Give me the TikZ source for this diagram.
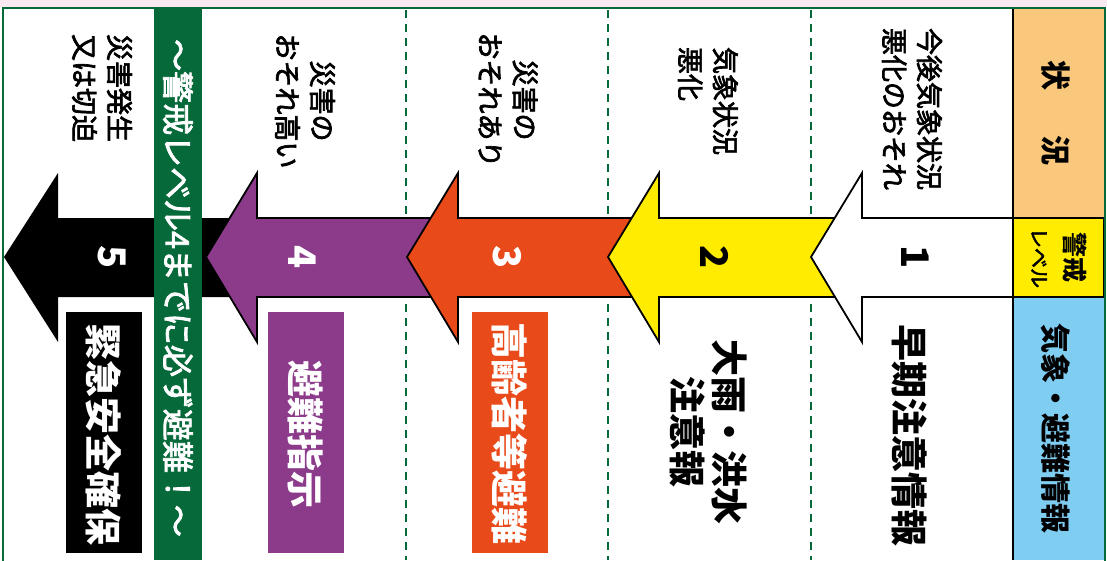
\documentclass[tikz,border=0pt]{standalone}
\usepackage{fontspec}
\usepackage{xcolor}
\usepackage{tikz}
\setmainfont{Noto Sans CJK JP}
\definecolor{frameGreen}{HTML}{06693A}
\definecolor{pinkStrip}{HTML}{FBE9F1}
\definecolor{headOrange}{HTML}{F9C87D}
\definecolor{headBlue}{HTML}{80CDF2}
\definecolor{levelYellow}{HTML}{FFEC00}
\definecolor{levelRed}{HTML}{E94A19}
\definecolor{levelPurple}{HTML}{8C3B8B}

\begin{document}
\begin{tikzpicture}[x=1pt, y=-1pt,
  vlabel/.style={rotate=-90, inner sep=0pt, align=center, font=\fontsize{27}{35}\selectfont\addfontfeatures{FakeBold=2.5}},
  biglabel/.style={rotate=-90, inner sep=0pt, align=center, font=\fontsize{37}{42}\selectfont\bfseries},
  numlabel/.style={rotate=-90, inner sep=0pt, font=\fontsize{38}{38}\selectfont\bfseries},
  headlabel/.style={rotate=-90, inner sep=0pt, font=\fontsize{30}{30}\selectfont\bfseries},
  levelarrow/.style={draw=black, line width=1.8, line join=miter},
  divider/.style={color=frameGreen, line width=2, dash pattern=on 8 off 6}]

\path[use as bounding box, clip] (0,0) rectangle (1107,560);
\fill[color=white] (0,0) rectangle (1107,560);
\fill[color=pinkStrip] (0,0) rectangle (1107,7);

\foreach \xd in {406,608,811}
  \draw[divider] (\xd,10) -- (\xd,560);

\fill[color=headOrange] (1013,8) rectangle (1105,218);
\fill[color=headBlue] (1013,297) rectangle (1105,560);

\fill[color=black] (268,218) -- (58,218) -- (58,173) -- (4,257) -- (58,342) -- (58,297) -- (268,297) -- cycle;
\fill[color=frameGreen] (154,8) rectangle (202,560);
\foreach \tip/\tail/\col in {206/468/levelPurple, 407/670/levelRed, 608/873/levelYellow, 811/1013/white}
  \draw[levelarrow, fill=\col] (\tail,218) -- ({\tip+51},218) -- ({\tip+51},173) -- (\tip,257)
    -- ({\tip+51},342) -- ({\tip+51},297) -- (\tail,297);

\draw[fill=levelYellow, line width=2] (1013,218) rectangle (1104,297);
\draw[line width=2] (1013,8) -- (1013,560);
\draw[color=frameGreen, line width=2.5] (3,8) rectangle (1105,600);

\node (status) [headlabel] at (1056,113) {状\hspace{45pt}況};
\node (lvlkei) [rotate=-90, inner sep=0pt, font=\fontsize{25}{25}\selectfont\bfseries] at (1075,257) {警戒};
\node (lvlword) [rotate=-90, inner sep=0pt, font=\fontsize{20}{20}\selectfont\addfontfeatures{FakeBold=2.5}] at (1039,258) {レベル};
\node (infohead) [headlabel] at (1056,428) {気象・避難情報};

\node (cond1) [vlabel] at (912,109) {今後気象状況\\悪化のおそれ};
\node (cond2) [vlabel, align=left] at (708,101) {気象状況\\悪化};
\node (cond3) [vlabel] at (508,100) {災害の\\おそれあり};
\node (cond4) [vlabel] at (305,101) {災害の\\おそれ高い};
\node (cond5) [vlabel] at (102,88) {災害発生\\又は切迫};

\node (num1) [numlabel] at (915,257) {1};
\node (num2) [numlabel] at (715,257) {2};
\node (num3) [numlabel, color=white] at (507,257) {3};
\node (num4) [numlabel, color=white] at (302,257) {4};
\node (num5) [numlabel, color=white] at (112,257) {5};

\node (info1) [biglabel] at (910,435) {早期注意情報};
\node (info2) [biglabel] at (709,432) {大雨・洪水\\注意報};
\fill[color=levelRed] (472,312) rectangle (548,553);
\node (info3) [biglabel, color=white] at (510,433) {高齢者等避難};
\fill[color=levelPurple] (268,312) rectangle (344,553);
\node (info4) [biglabel, color=white] at (306,434) {避難指示};
\fill[color=black] (66,312) rectangle (142,553);
\node (info5) [biglabel, color=white] at (104,434) {緊急安全確保};

\node (bandtext) [rotate=-90, inner sep=0pt, color=white, font=\fontsize{32}{32}\selectfont\addfontfeatures{FakeBold=2.5}] at (178,288) {～警戒レベル4までに必ず避難！～};
\end{tikzpicture}
\end{document}
